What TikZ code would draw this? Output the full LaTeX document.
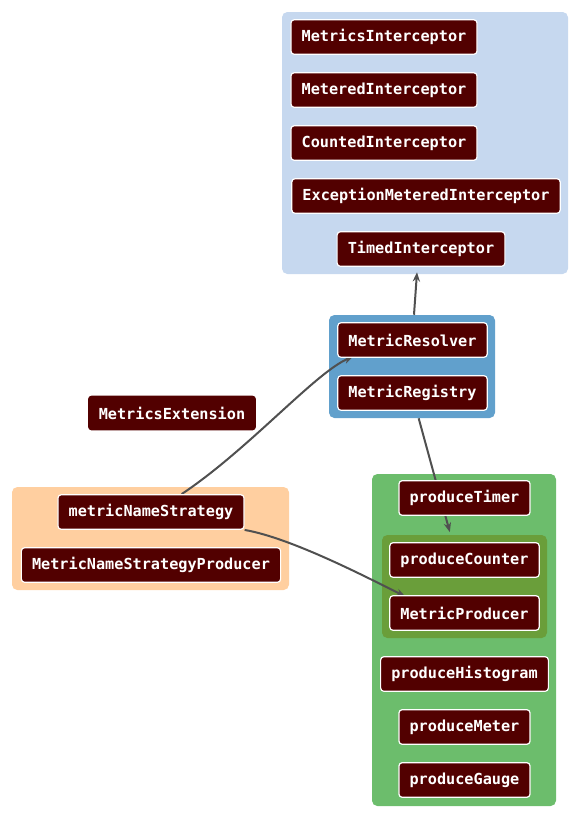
\documentclass[tikz,border=0pt]{standalone}
\usepackage{fontspec}
\setmonofont{DejaVu Sans Mono}
\usetikzlibrary{arrows.meta,fit}

\definecolor{beanred}{RGB}{82,0,0}
\definecolor{edgegray}{RGB}{80,80,80}
\definecolor{paleblue}{RGB}{198,216,239}
\definecolor{midblue}{RGB}{97,160,204}
\definecolor{peach}{RGB}{255,207,160}
\definecolor{leafgreen}{RGB}{108,189,108}
\definecolor{olive}{RGB}{106,158,58}

\pgfdeclarelayer{groups}
\pgfdeclarelayer{wires}
\pgfsetlayers{groups,wires,main}

\tikzset{every picture/.style={line width=0.75pt}}
\tikzset{
  bean/.style={fill=beanred, draw=white, line width=0.9pt, rounded corners=2.5pt,
    text=white, font=\ttfamily\bfseries\fontsize{11.4}{13}\selectfont,
    inner xsep=8pt, inner ysep=0pt, minimum height=26pt},
  group/.style={rounded corners=4pt, inner sep=0pt},
  wire/.style={draw=edgegray, line width=1.5pt, -{Stealth[length=7pt,width=5.5pt]}}
}

\begin{document}
\begin{tikzpicture}[x=0.75pt,y=0.75pt,yscale=-1,xscale=1]
\useasboundingbox (0,0) rectangle (580,819);
% Interceptors
\node [bean] (metricsint) at (384,37) {MetricsInterceptor};
\node [bean] (meteredint) at (384,90) {MeteredInterceptor};
\node [bean] (countedint) at (384,143) {CountedInterceptor};
\node [bean] (exceptionint) at (426,196) {ExceptionMeteredInterceptor};
\node [bean] (timedint) at (421,249) {TimedInterceptor};
% Resolver and registry
\node [bean] (resolver) at (412.5,340) {MetricResolver};
\node [bean] (registry) at (412.5,393) {MetricRegistry};
% Extension
\node [bean, draw=none] (extension) at (172,413) {MetricsExtension};
% Name strategy
\node [bean] (strategy) at (151,512) {metricNameStrategy};
\node [bean] (strategyprod) at (151,565) {MetricNameStrategyProducer};
% Producer methods
\node [bean] (timer) at (464.5,498) {produceTimer};
\node [bean] (counter) at (464.5,560) {produceCounter};
\node [bean] (producer) at (464.5,613) {MetricProducer};
\node [bean] (histogram) at (464.5,674) {produceHistogram};
\node [bean] (meter) at (464.5,727) {produceMeter};
\node [bean] (gauge) at (464.5,780) {produceGauge};

\begin{pgfonlayer}{groups}
%Group boxes
\node [group, fill=paleblue, fit={(282,12) (568,274)}] (interceptors) {};
\node [group, fill=midblue, fit={(329,315) (495,418)}] (resolvers) {};
\node [group, fill=peach, fit={(12,487) (289,590)}] (strategies) {};
\node [group, fill=leafgreen, fit={(372,474) (556,806)}] (producers) {};
\node [group, fill=olive, fit={(382,535) (547,638)}] (counters) {};
\end{pgfonlayer}

\begin{pgfonlayer}{wires}
%Connectors
\draw [wire] ([xshift=1.5pt]resolvers.north) -- ([xshift=-6pt,yshift=-1.5pt]interceptors.south);
\draw [wire] ([xshift=23pt]strategy.north) .. controls (248,450) and (316,372) .. ([xshift=12pt,yshift=-1pt]resolver.south west);
\draw [wire] ([xshift=5pt]resolvers.south) -- ([xshift=-11pt,yshift=-2pt]counters.north);
\draw [wire] (strategy.south east) .. controls (292,538) and (372,580) .. ([xshift=12pt,yshift=1pt]producer.north west);
\end{pgfonlayer}
\end{tikzpicture}
\end{document}
